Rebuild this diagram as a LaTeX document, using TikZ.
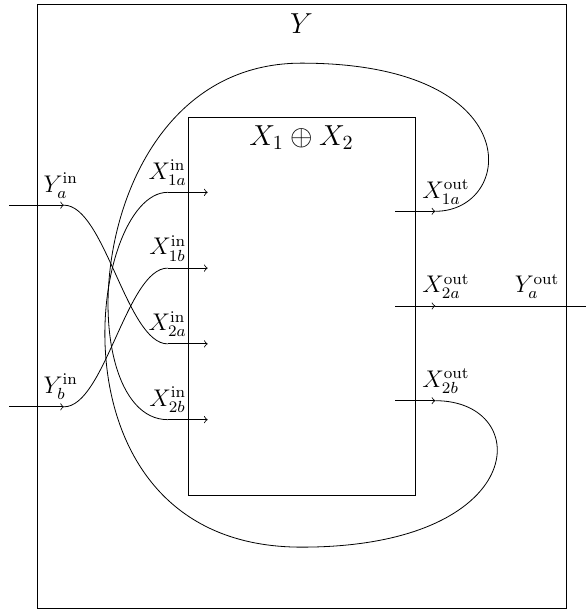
\documentclass[tikz,border=0pt]{standalone}
\usepackage{amsmath,amssymb}
\usepackage{tikz}
\usetikzlibrary{calc}

\begin{document}
\begin{tikzpicture}[
  box/.style={draw, inner sep=0pt},
  arr/.style={->},
  title/.style={font=\Large},
  port/.style={font=\large}
]
\useasboundingbox (-5.276,-5.3025) rectangle (4.979,5.355);

%% outer and inner boxes
\node[box, minimum width=9.26cm, minimum height=10.57cm] (Y) at (0,0) {};
\node[box, minimum width=3.97cm, minimum height=6.615cm] (X) at (0,0) {};
\node[title] (Ylab) at (0,4.95) {$Y$};
\node[title] (Xlab) at (0,2.95) {$X_1 \oplus X_2$};

%% ports on the boxes
\coordinate (x1a-in)  at ($(X.north west)!0.2!(X.south west)$);
\coordinate (x1b-in)  at ($(X.north west)!0.4!(X.south west)$);
\coordinate (x2a-in)  at ($(X.north west)!0.6!(X.south west)$);
\coordinate (x2b-in)  at ($(X.north west)!0.8!(X.south west)$);
\coordinate (x1a-out) at ($(X.north east)!0.25!(X.south east)$);
\coordinate (x2a-out) at ($(X.north east)!0.5!(X.south east)$);
\coordinate (x2b-out) at ($(X.north east)!0.75!(X.south east)$);
\coordinate (ya-in)   at ($(Y.north west)!0.3333!(Y.south west)$);
\coordinate (yb-in)   at ($(Y.north west)!0.6667!(Y.south west)$);
\coordinate (ya-out)  at (Y.east);

%% short arrows across the box edges
\foreach \p in {x1a-in, x1b-in, x2a-in, x2b-in, x1a-out, x2a-out, x2b-out}
  \draw[arr] ($(\p)+(-0.35,0)$) coordinate (\p-s) -- ($(\p)+(0.35,0)$) coordinate (\p-t);
\foreach \p in {ya-in, yb-in}
  \draw[arr] ($(\p)+(-0.48,0)$) -- ($(\p)+(0.48,0)$) coordinate (\p-t);
\draw (x2a-out-t) -- ($(ya-out)+(0.35,0)$);

%% labels
\node[port, above] at (x1a-in-s) {$X^{\mathrm{in}}_{1a}$};
\node[port, above] at (x1b-in-s) {$X^{\mathrm{in}}_{1b}$};
\node[port, above] at (x2a-in-s) {$X^{\mathrm{in}}_{2a}$};
\node[port, above] at (x2b-in-s) {$X^{\mathrm{in}}_{2b}$};
\node[port, above right] at (x1a-out) {$X^{\mathrm{out}}_{1a}$};
\node[port, above right] at (x2a-out) {$X^{\mathrm{out}}_{2a}$};
\node[port, above right] at (x2b-out) {$X^{\mathrm{out}}_{2b}$};
\node[port, above right] at (ya-in) {$Y^{\mathrm{in}}_{a}$};
\node[port, above right] at (yb-in) {$Y^{\mathrm{in}}_{b}$};
\node[port, above left]  at (ya-out) {$Y^{\mathrm{out}}_{a}$};

%% external inputs
\draw (ya-in-t) to[out=0,in=180,looseness=0.6] (x2a-in-s);
\draw (yb-in-t) to[out=0,in=180,looseness=0.6] (x1b-in-s);

%% feedback loops
\draw (x1a-out-t) .. controls +(1.4,0) and +(4.0,0) .. (0,4.25)
  .. controls +(-3.85,0) and +(-1.75,0) .. (x2b-in-s);
\draw (x2b-out-t) .. controls +(1.75,0) and +(4.0,0) .. (0,-4.22)
  .. controls +(-4.55,0) and +(-1.4,0) .. (x1a-in-s);
\end{tikzpicture}
\end{document}
